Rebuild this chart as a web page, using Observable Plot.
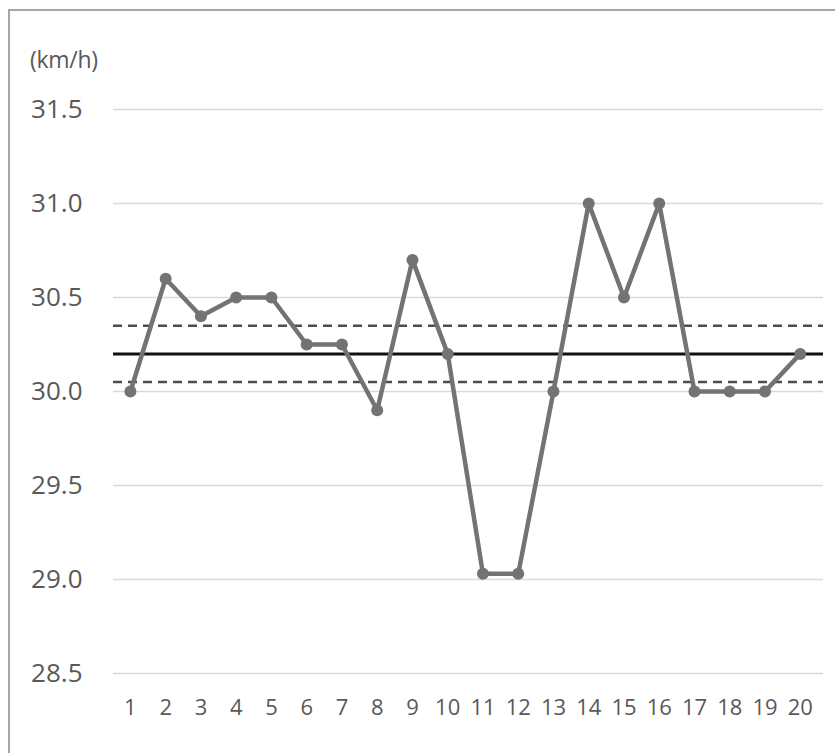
<!DOCTYPE html>
<html>
<head>
<meta charset="utf-8">
<script src="https://cdn.jsdelivr.net/npm/d3@7"></script>
<script src="https://cdn.jsdelivr.net/npm/@observablehq/plot@0.6"></script>
<style>
  html, body { margin: 0; padding: 0; background: #fff; overflow: hidden; }
  #wrap { position: relative; width: 835px; height: 753px; }
  #frame { position: absolute; left: 8px; top: 9px; width: 900px; height: 900px; border: 2px solid #a6a6a6; box-sizing: border-box; pointer-events: none; }
  #unit { position: absolute; left: 30px; top: 43px; font-family: "Open Sans", sans-serif; font-size: 23px; color: #595959; letter-spacing: -0.3px; }
  #chart { position: absolute; left: 0; top: 0; }
  #chart g[aria-label="y-axis tick label"] { font-size: 26px !important; }
  #chart g[aria-label="x-axis tick label"] { font-size: 22px !important; }
</style>
</head>
<body>
<div id="wrap">
  <div id="chart"></div>
  <div id="frame"></div>
  <div id="unit">(km/h)</div>
</div>
<script>
const runs = [1,2,3,4,5,6,7,8,9,10,11,12,13,14,15,16,17,18,19,20];
const speeds = [30.0,30.6,30.4,30.5,30.5,30.25,30.25,29.9,30.7,30.2,29.03,29.03,30.0,31.0,30.5,31.0,30.0,30.0,30.0,30.2];
const meanValue = 30.2;
const limitValues = [30.35, 30.05];
const yTicks = [28.5,29.0,29.5,30.0,30.5,31.0,31.5];

const data = runs.map((r, i) => ({run: r, speed: speeds[i]}));

const chart = Plot.plot({
  width: 835,
  height: 753,
  marginLeft: 113,
  marginRight: 12,
  marginTop: 109,
  marginBottom: 80,
  style: {fontFamily: "'Open Sans', sans-serif", color: "#595959", background: "transparent"},
  x: {domain: [0.52, 20.66], label: null},
  y: {domain: [28.5, 31.5], label: null},
  marks: [
    Plot.gridY(yTicks, {stroke: "#d9d9d9", strokeOpacity: 1, strokeWidth: 1.5}),
    Plot.axisY(yTicks, {tickSize: 0, tickPadding: 31, tickFormat: d3.format(".1f"), fill: "#595959", label: null}),
    Plot.axisX(runs, {tickSize: 0, tickPadding: 26, tickFormat: d => String(d), fill: "#595959", label: null}),
    Plot.ruleY(limitValues, {stroke: "#4d4d4d", strokeWidth: 2.5, strokeDasharray: "9,6"}),
    Plot.ruleY([meanValue], {stroke: "#111111", strokeWidth: 3}),
    Plot.line(data, {x: "run", y: "speed", stroke: "#737373", strokeWidth: 4.5}),
    Plot.dot(data, {x: "run", y: "speed", fill: "#737373", r: 6})
  ]
});
document.getElementById("chart").appendChild(chart);
</script>
</body>
</html>
